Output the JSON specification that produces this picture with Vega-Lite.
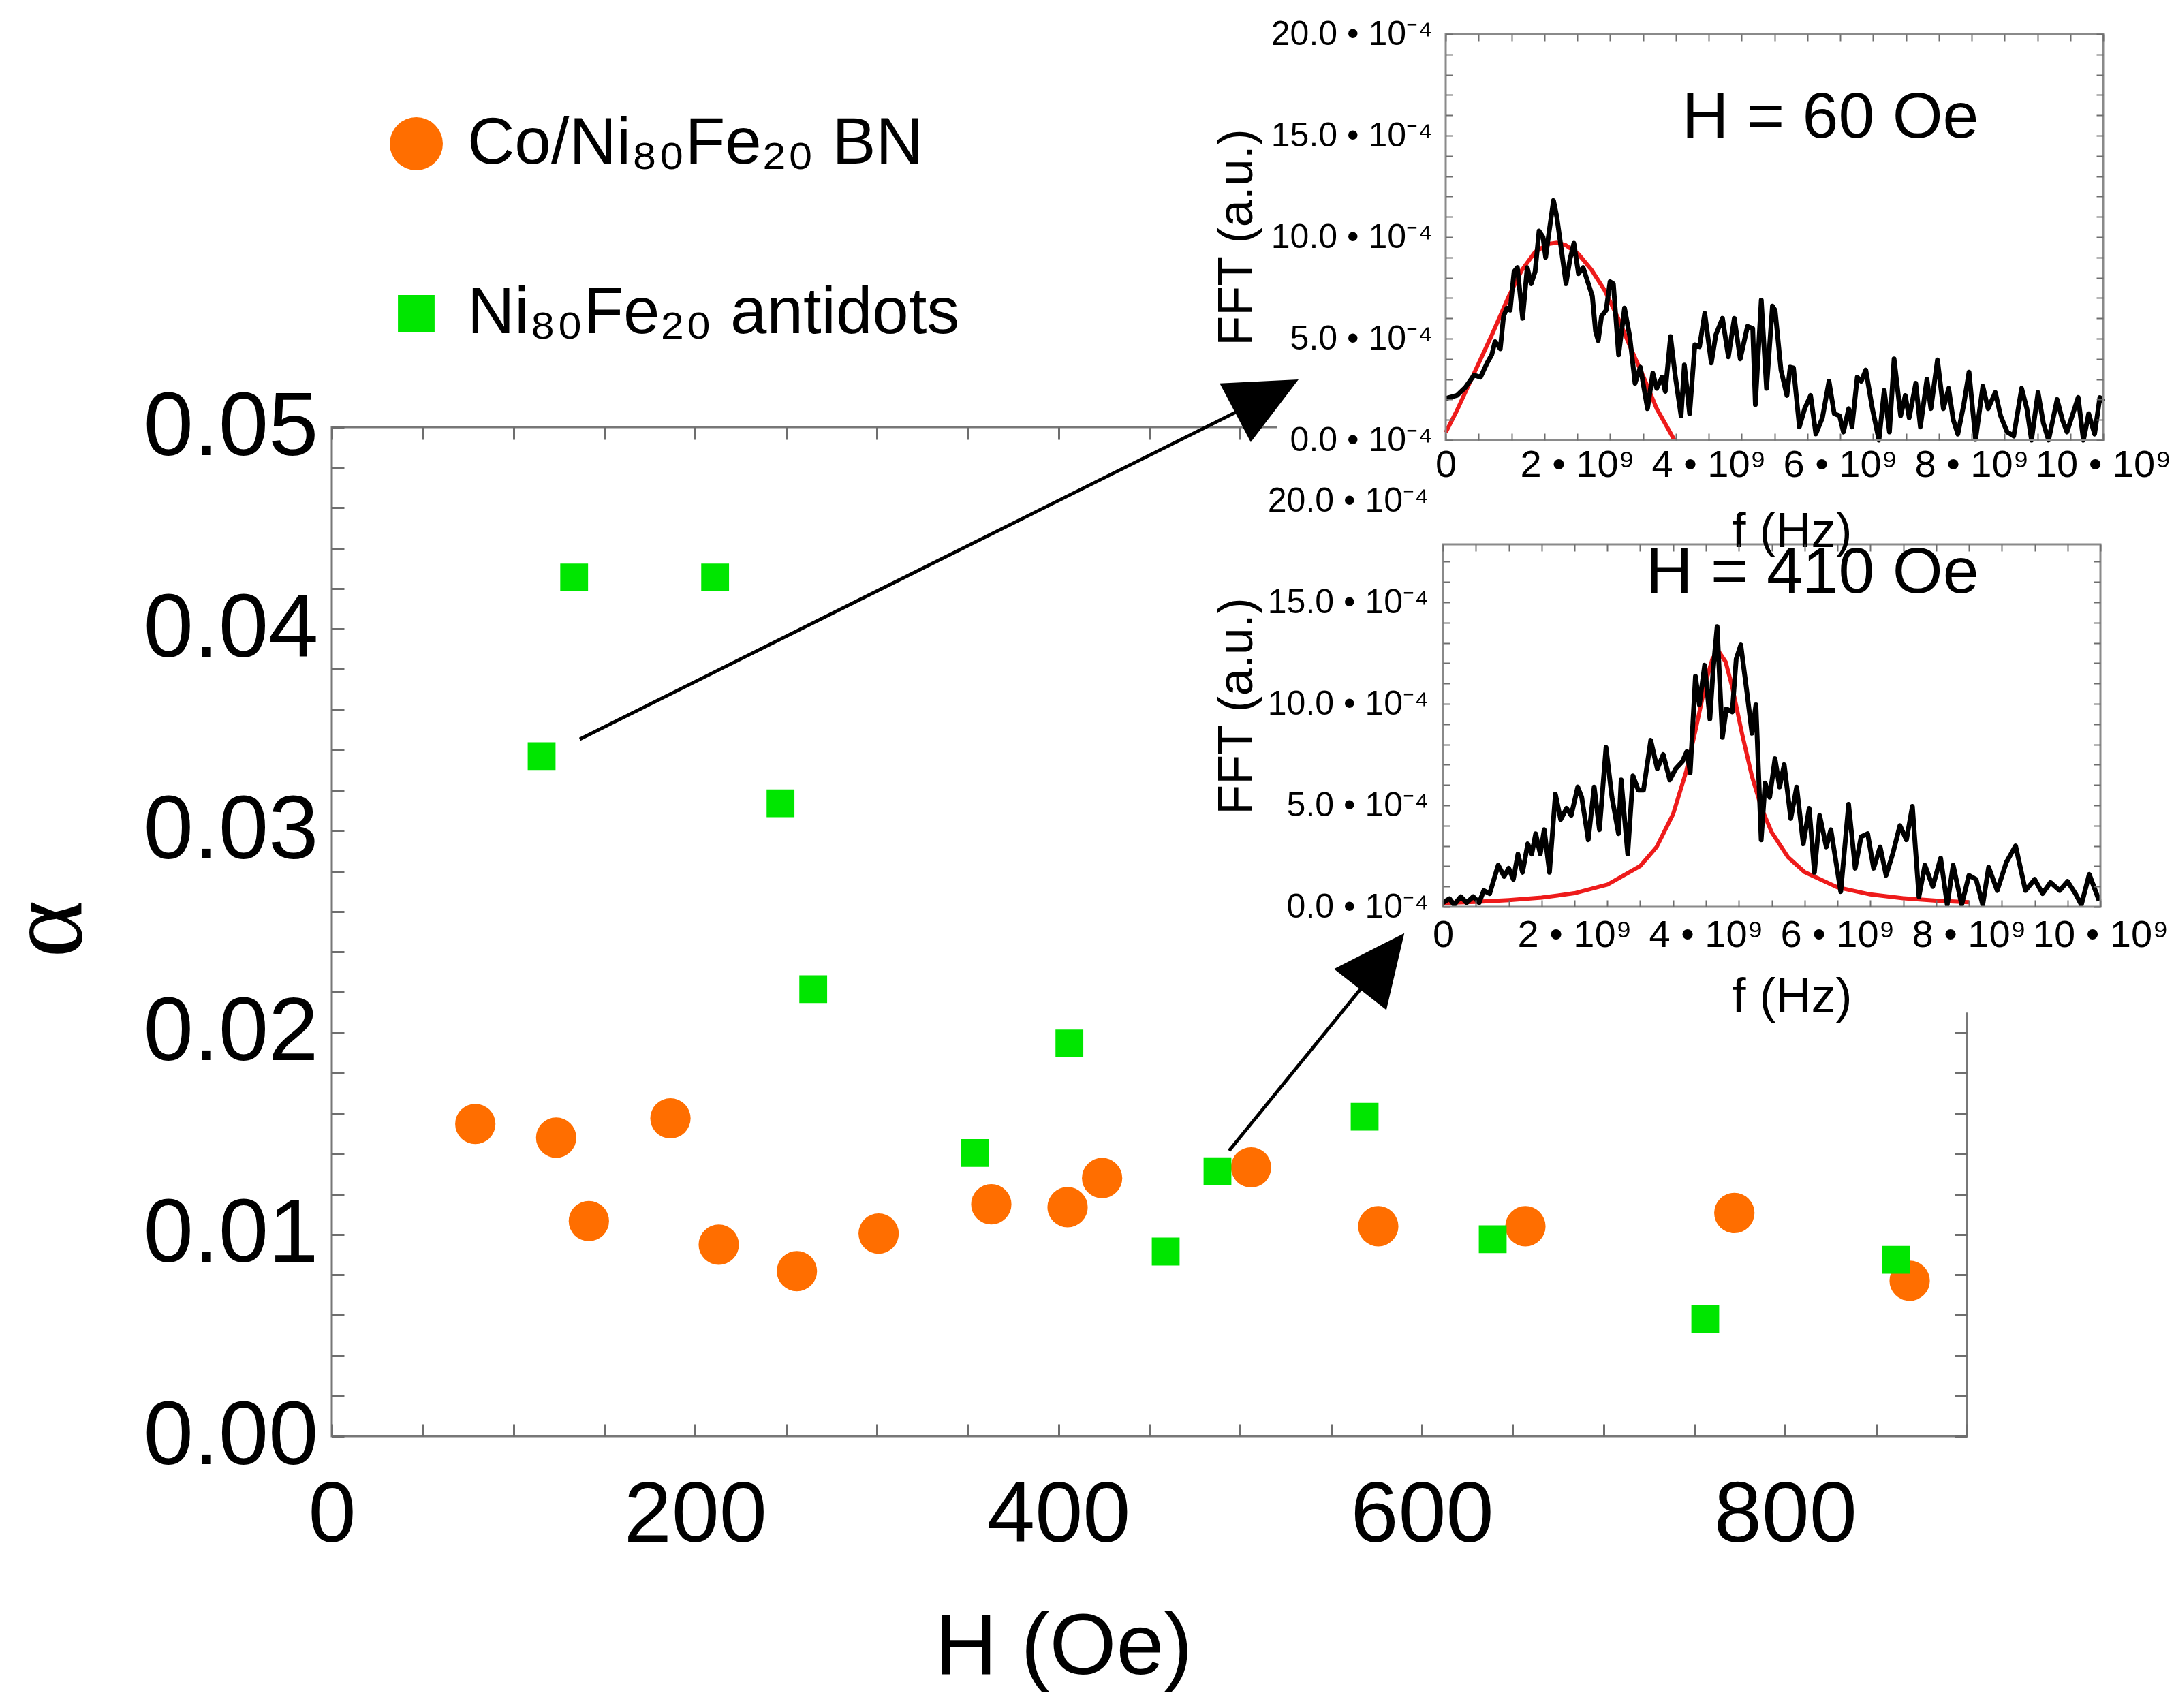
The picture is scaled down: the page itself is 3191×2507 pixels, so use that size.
{
  "$schema": "https://vega.github.io/schema/vega-lite/v6.json",
  "width": 2400,
  "height": 1481,
  "autosize": "none",
  "padding": {"left": 487, "top": 627, "right": 304, "bottom": 399},
  "background": "white",
  "config": {
    "view": {"stroke": "#777777", "strokeWidth": 3},
    "font": "Liberation Sans",
    "axis": {
      "labelFont": "Liberation Sans", "titleFont": "Liberation Sans",
      "labelColor": "black", "titleColor": "black", "titleFontWeight": "normal",
      "grid": false, "domain": false, "tickColor": "#6e6e6e",
      "labelOverlap": false, "labelBound": false, "labelFlush": false, "labelLimit": 0
    }
  },
  "datasets": {
    "pts": [
      {"series": "Co/Ni₈₀Fe₂₀ BN", "H": 79, "alpha": 0.01547},
      {"series": "Co/Ni₈₀Fe₂₀ BN", "H": 123.5, "alpha": 0.01479},
      {"series": "Co/Ni₈₀Fe₂₀ BN", "H": 141.5, "alpha": 0.01066},
      {"series": "Co/Ni₈₀Fe₂₀ BN", "H": 186.4, "alpha": 0.01575},
      {"series": "Co/Ni₈₀Fe₂₀ BN", "H": 213, "alpha": 0.00949},
      {"series": "Co/Ni₈₀Fe₂₀ BN", "H": 256, "alpha": 0.00818},
      {"series": "Co/Ni₈₀Fe₂₀ BN", "H": 301, "alpha": 0.01004},
      {"series": "Co/Ni₈₀Fe₂₀ BN", "H": 363, "alpha": 0.01149},
      {"series": "Co/Ni₈₀Fe₂₀ BN", "H": 405, "alpha": 0.01135},
      {"series": "Co/Ni₈₀Fe₂₀ BN", "H": 424, "alpha": 0.01279},
      {"series": "Co/Ni₈₀Fe₂₀ BN", "H": 506, "alpha": 0.01332},
      {"series": "Co/Ni₈₀Fe₂₀ BN", "H": 576, "alpha": 0.0104},
      {"series": "Co/Ni₈₀Fe₂₀ BN", "H": 657, "alpha": 0.0104},
      {"series": "Co/Ni₈₀Fe₂₀ BN", "H": 772, "alpha": 0.01106},
      {"series": "Co/Ni₈₀Fe₂₀ BN", "H": 868.5, "alpha": 0.0077},
      {"series": "Ni₈₀Fe₂₀ antidots", "H": 115.5, "alpha": 0.0337},
      {"series": "Ni₈₀Fe₂₀ antidots", "H": 133.4, "alpha": 0.04255},
      {"series": "Ni₈₀Fe₂₀ antidots", "H": 211, "alpha": 0.04255},
      {"series": "Ni₈₀Fe₂₀ antidots", "H": 247, "alpha": 0.03136},
      {"series": "Ni₈₀Fe₂₀ antidots", "H": 265, "alpha": 0.02215},
      {"series": "Ni₈₀Fe₂₀ antidots", "H": 354, "alpha": 0.01403},
      {"series": "Ni₈₀Fe₂₀ antidots", "H": 406, "alpha": 0.01946},
      {"series": "Ni₈₀Fe₂₀ antidots", "H": 459, "alpha": 0.00915},
      {"series": "Ni₈₀Fe₂₀ antidots", "H": 487.5, "alpha": 0.01313},
      {"series": "Ni₈₀Fe₂₀ antidots", "H": 568.5, "alpha": 0.01583},
      {"series": "Ni₈₀Fe₂₀ antidots", "H": 639, "alpha": 0.00976},
      {"series": "Ni₈₀Fe₂₀ antidots", "H": 756, "alpha": 0.00582},
      {"series": "Ni₈₀Fe₂₀ antidots", "H": 861, "alpha": 0.00874}
    ],
    "cover": [{"f": -2.56, "f2": 12, "fft": -28.2, "fft2": 25}],
    "frame60": [{"f": 0, "f2": 10, "fft": 0, "fft2": 20}],
    "frame410": [{"f": 0, "f2": 10, "fft": 0, "fft2": 17.85}],
    "note60": [{"label": "H = 60 Oe", "f": 5.85, "fft": 15.87}],
    "note410": [{"label": "H = 410 Oe", "f": 5.62, "fft": 16.44}],
    "fit60": [
      {"f": 0, "fft": 0.37}, {"f": 0.166, "fft": 1.43}, {"f": 0.43, "fft": 3.28}, {"f": 0.695, "fft": 5.13},
      {"f": 0.96, "fft": 7.09}, {"f": 1.16, "fft": 8.38}, {"f": 1.36, "fft": 9.27}, {"f": 1.56, "fft": 9.66},
      {"f": 1.69, "fft": 9.72}, {"f": 1.82, "fft": 9.61}, {"f": 2.02, "fft": 9.16}, {"f": 2.22, "fft": 8.38},
      {"f": 2.42, "fft": 7.37}, {"f": 2.62, "fft": 6.02}, {"f": 2.81, "fft": 4.57}, {"f": 3.01, "fft": 3.11},
      {"f": 3.21, "fft": 1.55}, {"f": 3.48, "fft": 0}
    ],
    "fft60": [
      {"f": 0, "fft": 2.05}, {"f": 0.17, "fft": 2.2}, {"f": 0.3, "fft": 2.6}, {"f": 0.43, "fft": 3.2},
      {"f": 0.53, "fft": 3.1}, {"f": 0.63, "fft": 3.8}, {"f": 0.7, "fft": 4.2}, {"f": 0.75, "fft": 4.85},
      {"f": 0.83, "fft": 4.5}, {"f": 0.88, "fft": 6.1}, {"f": 0.93, "fft": 6.5}, {"f": 0.98, "fft": 6.4},
      {"f": 1.04, "fft": 8.3}, {"f": 1.09, "fft": 8.5}, {"f": 1.17, "fft": 6.0}, {"f": 1.24, "fft": 8.5},
      {"f": 1.3, "fft": 7.7}, {"f": 1.36, "fft": 8.3}, {"f": 1.42, "fft": 10.3}, {"f": 1.48, "fft": 10.0},
      {"f": 1.52, "fft": 9.0}, {"f": 1.57, "fft": 10.2}, {"f": 1.64, "fft": 11.8}, {"f": 1.69, "fft": 11.0},
      {"f": 1.75, "fft": 9.6}, {"f": 1.83, "fft": 7.7}, {"f": 1.89, "fft": 8.9}, {"f": 1.95, "fft": 9.7},
      {"f": 2.02, "fft": 8.2}, {"f": 2.09, "fft": 8.5}, {"f": 2.17, "fft": 7.7}, {"f": 2.23, "fft": 7.1},
      {"f": 2.28, "fft": 5.35}, {"f": 2.32, "fft": 4.9}, {"f": 2.37, "fft": 6.1}, {"f": 2.44, "fft": 6.4},
      {"f": 2.5, "fft": 7.8}, {"f": 2.55, "fft": 7.7}, {"f": 2.63, "fft": 4.2}, {"f": 2.72, "fft": 6.5},
      {"f": 2.8, "fft": 5.1}, {"f": 2.88, "fft": 2.8}, {"f": 2.96, "fft": 3.6}, {"f": 3.07, "fft": 1.55},
      {"f": 3.15, "fft": 3.3}, {"f": 3.21, "fft": 2.55}, {"f": 3.29, "fft": 3.1}, {"f": 3.34, "fft": 2.4},
      {"f": 3.42, "fft": 5.1}, {"f": 3.49, "fft": 3.2}, {"f": 3.58, "fft": 1.2}, {"f": 3.63, "fft": 3.7},
      {"f": 3.71, "fft": 1.3}, {"f": 3.79, "fft": 4.7}, {"f": 3.86, "fft": 4.6}, {"f": 3.94, "fft": 6.25},
      {"f": 4.04, "fft": 3.8}, {"f": 4.11, "fft": 5.2}, {"f": 4.21, "fft": 6.0}, {"f": 4.3, "fft": 4.1},
      {"f": 4.39, "fft": 6.0}, {"f": 4.48, "fft": 4.0}, {"f": 4.59, "fft": 5.6}, {"f": 4.67, "fft": 5.5},
      {"f": 4.71, "fft": 1.75}, {"f": 4.8, "fft": 6.9}, {"f": 4.88, "fft": 2.55}, {"f": 4.97, "fft": 6.6},
      {"f": 5.01, "fft": 6.4}, {"f": 5.1, "fft": 3.45}, {"f": 5.19, "fft": 2.2}, {"f": 5.24, "fft": 3.6},
      {"f": 5.29, "fft": 3.55}, {"f": 5.38, "fft": 0.65}, {"f": 5.46, "fft": 1.55}, {"f": 5.55, "fft": 2.2},
      {"f": 5.63, "fft": 0.3}, {"f": 5.73, "fft": 1.1}, {"f": 5.83, "fft": 2.9}, {"f": 5.91, "fft": 1.3},
      {"f": 5.99, "fft": 1.2}, {"f": 6.05, "fft": 0.4}, {"f": 6.13, "fft": 1.55}, {"f": 6.18, "fft": 0.65},
      {"f": 6.26, "fft": 3.1}, {"f": 6.32, "fft": 2.9}, {"f": 6.39, "fft": 3.45}, {"f": 6.49, "fft": 1.55},
      {"f": 6.59, "fft": 0}, {"f": 6.67, "fft": 2.45}, {"f": 6.75, "fft": 0.4}, {"f": 6.82, "fft": 4.0},
      {"f": 6.92, "fft": 1.2}, {"f": 6.99, "fft": 2.2}, {"f": 7.05, "fft": 1.1}, {"f": 7.15, "fft": 2.8},
      {"f": 7.22, "fft": 0.65}, {"f": 7.32, "fft": 3.0}, {"f": 7.38, "fft": 1.55}, {"f": 7.48, "fft": 3.95},
      {"f": 7.57, "fft": 1.55}, {"f": 7.65, "fft": 2.55}, {"f": 7.72, "fft": 1.0}, {"f": 7.79, "fft": 0.3},
      {"f": 7.88, "fft": 1.75}, {"f": 7.96, "fft": 3.35}, {"f": 8.06, "fft": 0.03}, {"f": 8.17, "fft": 2.65},
      {"f": 8.25, "fft": 1.55}, {"f": 8.36, "fft": 2.35}, {"f": 8.44, "fft": 1.2}, {"f": 8.54, "fft": 0.4},
      {"f": 8.64, "fft": 0.2}, {"f": 8.76, "fft": 2.55}, {"f": 8.84, "fft": 1.55}, {"f": 8.91, "fft": 0},
      {"f": 9.01, "fft": 2.35}, {"f": 9.09, "fft": 0.85}, {"f": 9.17, "fft": 0}, {"f": 9.3, "fft": 2.0},
      {"f": 9.38, "fft": 1.0}, {"f": 9.45, "fft": 0.4}, {"f": 9.62, "fft": 2.1}, {"f": 9.7, "fft": 0},
      {"f": 9.78, "fft": 1.3}, {"f": 9.87, "fft": 0.3}, {"f": 9.95, "fft": 2.1}, {"f": 10.0, "fft": 1.9}
    ],
    "fit410": [
      {"f": 0, "fft": 0.19}, {"f": 0.5, "fft": 0.245}, {"f": 1, "fft": 0.33}, {"f": 1.5, "fft": 0.45},
      {"f": 2, "fft": 0.67}, {"f": 2.5, "fft": 1.09}, {"f": 3, "fft": 2.01}, {"f": 3.25, "fft": 2.95},
      {"f": 3.5, "fft": 4.56}, {"f": 3.7, "fft": 6.67}, {"f": 3.85, "fft": 8.82}, {"f": 4.0, "fft": 11.11},
      {"f": 4.1, "fft": 12.23}, {"f": 4.19, "fft": 12.6}, {"f": 4.3, "fft": 12.06}, {"f": 4.4, "fft": 10.83},
      {"f": 4.55, "fft": 8.51}, {"f": 4.7, "fft": 6.42}, {"f": 4.85, "fft": 4.82}, {"f": 5.0, "fft": 3.67},
      {"f": 5.25, "fft": 2.44}, {"f": 5.5, "fft": 1.71}, {"f": 6, "fft": 0.96}, {"f": 6.5, "fft": 0.61},
      {"f": 7, "fft": 0.42}, {"f": 7.5, "fft": 0.3}, {"f": 8, "fft": 0.23}
    ],
    "fft410": [
      {"f": 0, "fft": 0.2}, {"f": 0.1, "fft": 0.4}, {"f": 0.17, "fft": 0.1}, {"f": 0.27, "fft": 0.5},
      {"f": 0.36, "fft": 0.2}, {"f": 0.46, "fft": 0.5}, {"f": 0.55, "fft": 0.2}, {"f": 0.62, "fft": 0.8},
      {"f": 0.71, "fft": 0.65}, {"f": 0.84, "fft": 2.05}, {"f": 0.93, "fft": 1.5}, {"f": 1.0, "fft": 1.9},
      {"f": 1.07, "fft": 1.35}, {"f": 1.14, "fft": 2.6}, {"f": 1.21, "fft": 1.7}, {"f": 1.29, "fft": 3.1},
      {"f": 1.35, "fft": 2.6}, {"f": 1.41, "fft": 3.6}, {"f": 1.48, "fft": 2.6}, {"f": 1.54, "fft": 3.8},
      {"f": 1.62, "fft": 1.7}, {"f": 1.71, "fft": 5.55}, {"f": 1.79, "fft": 4.3}, {"f": 1.88, "fft": 4.85},
      {"f": 1.95, "fft": 4.5}, {"f": 2.05, "fft": 5.9}, {"f": 2.11, "fft": 5.4}, {"f": 2.21, "fft": 3.3},
      {"f": 2.3, "fft": 5.9}, {"f": 2.38, "fft": 3.8}, {"f": 2.48, "fft": 7.85}, {"f": 2.57, "fft": 5.4},
      {"f": 2.67, "fft": 3.6}, {"f": 2.71, "fft": 6.25}, {"f": 2.81, "fft": 2.6}, {"f": 2.89, "fft": 6.45},
      {"f": 2.97, "fft": 5.75}, {"f": 3.05, "fft": 5.75}, {"f": 3.16, "fft": 8.2}, {"f": 3.26, "fft": 6.8},
      {"f": 3.35, "fft": 7.5}, {"f": 3.45, "fft": 6.25}, {"f": 3.54, "fft": 6.8}, {"f": 3.64, "fft": 7.15},
      {"f": 3.71, "fft": 7.65}, {"f": 3.76, "fft": 6.6}, {"f": 3.84, "fft": 11.35}, {"f": 3.9, "fft": 9.95},
      {"f": 3.98, "fft": 11.9}, {"f": 4.06, "fft": 9.25}, {"f": 4.11, "fft": 11.7}, {"f": 4.17, "fft": 13.8},
      {"f": 4.25, "fft": 8.35}, {"f": 4.31, "fft": 9.75}, {"f": 4.4, "fft": 9.6}, {"f": 4.46, "fft": 12.2},
      {"f": 4.53, "fft": 12.9}, {"f": 4.62, "fft": 10.65}, {"f": 4.7, "fft": 8.55}, {"f": 4.76, "fft": 9.95},
      {"f": 4.84, "fft": 3.3}, {"f": 4.9, "fft": 6.1}, {"f": 4.97, "fft": 5.4}, {"f": 5.05, "fft": 7.3},
      {"f": 5.12, "fft": 5.9}, {"f": 5.19, "fft": 7.0}, {"f": 5.29, "fft": 4.35}, {"f": 5.38, "fft": 5.9},
      {"f": 5.48, "fft": 3.1}, {"f": 5.57, "fft": 4.85}, {"f": 5.65, "fft": 1.7}, {"f": 5.73, "fft": 4.5},
      {"f": 5.83, "fft": 2.95}, {"f": 5.9, "fft": 3.8}, {"f": 6.05, "fft": 0.75}, {"f": 6.17, "fft": 5.05},
      {"f": 6.27, "fft": 1.9}, {"f": 6.36, "fft": 3.45}, {"f": 6.46, "fft": 3.6}, {"f": 6.55, "fft": 1.9},
      {"f": 6.65, "fft": 2.95}, {"f": 6.74, "fft": 1.55}, {"f": 6.84, "fft": 2.6}, {"f": 6.95, "fft": 4.0},
      {"f": 7.05, "fft": 3.3}, {"f": 7.14, "fft": 4.95}, {"f": 7.24, "fft": 0.5}, {"f": 7.33, "fft": 2.05},
      {"f": 7.45, "fft": 1.0}, {"f": 7.57, "fft": 2.4}, {"f": 7.67, "fft": 0.1}, {"f": 7.76, "fft": 2.05},
      {"f": 7.89, "fft": 0.1}, {"f": 8.0, "fft": 1.55}, {"f": 8.11, "fft": 1.35}, {"f": 8.21, "fft": 0.1},
      {"f": 8.3, "fft": 1.95}, {"f": 8.43, "fft": 0.8}, {"f": 8.57, "fft": 2.2}, {"f": 8.71, "fft": 3.0},
      {"f": 8.86, "fft": 0.8}, {"f": 9.0, "fft": 1.35}, {"f": 9.12, "fft": 0.65}, {"f": 9.24, "fft": 1.2},
      {"f": 9.38, "fft": 0.8}, {"f": 9.5, "fft": 1.25}, {"f": 9.62, "fft": 0.65}, {"f": 9.71, "fft": 0.1},
      {"f": 9.83, "fft": 1.6}, {"f": 9.9, "fft": 1.0}, {"f": 9.98, "fft": 0.3}
    ],
    "arrows": [
      {"H": 136.5, "a": 0.03454, "H2": 503.6, "a2": 0.05101},
      {"H": 493.9, "a": 0.014146, "H2": 571.1, "a2": 0.02269}
    ],
    "heads": [
      {"id": 1, "H": 514.7, "a": 0.05154},
      {"id": 2, "H": 578.2, "a": 0.02353}
    ]
  },
  "layer": [
    {
      "data": {"name": "pts"},
      "mark": {"type": "point", "filled": true, "opacity": 1, "strokeWidth": 0, "size": 3500},
      "encoding": {
        "x": {
          "field": "H", "type": "quantitative",
          "scale": {"domain": [0, 900], "nice": false, "zero": false},
          "axis": {
            "orient": "bottom",
            "values": [0, 50, 100, 150, 200, 250, 300, 350, 400, 450, 500, 550, 600, 650, 700, 750, 800, 850, 900],
            "labelExpr": "datum.value % 200 === 0 ? datum.label : ''",
            "tickSize": -18, "tickWidth": 3,
            "labelFontSize": 126, "labelPadding": 72,
            "title": "H (Oe)", "titleFontSize": 126,
            "titleX": 1074, "titleY": 348, "titleAlign": "center", "titleBaseline": "alphabetic"
          }
        },
        "y": {
          "field": "alpha", "type": "quantitative",
          "scale": {"domain": [0, 0.05], "nice": false, "zero": false},
          "axis": {
            "orient": "left",
            "values": [0, 0.002, 0.004, 0.006, 0.008, 0.01, 0.012, 0.014, 0.016, 0.018, 0.02, 0.022, 0.024, 0.026, 0.028, 0.03, 0.032, 0.034, 0.036, 0.038, 0.04, 0.042, 0.044, 0.046, 0.048, 0.05],
            "labelExpr": "round(datum.value * 1000) % 10 === 0 ? format(datum.value, '.2f') : ''",
            "tickSize": -18, "tickWidth": 3,
            "labelFontSize": 132, "labelPadding": 38,
            "title": "α", "titleFont": "Liberation Serif", "titleFontSize": 162,
            "titleAngle": -90, "titleX": -418, "titleY": 736, "titleAlign": "center", "titleBaseline": "middle"
          }
        },
        "color": {
          "field": "series", "type": "nominal",
          "scale": {"domain": ["Co/Ni₈₀Fe₂₀ BN", "Ni₈₀Fe₂₀ antidots"], "range": ["#ff6e00", "#00e600"]},
          "legend": {
            "orient": "none", "legendX": 76, "legendY": -464, "title": null,
            "labelFontSize": 96, "labelFont": "Liberation Sans", "labelColor": "black",
            "labelOffset": 27, "rowPadding": 153, "symbolSize": 6084, "symbolStrokeWidth": 0,
            "labelLimit": 0, "padding": 0
          }
        },
        "shape": {
          "field": "series", "type": "nominal",
          "scale": {"domain": ["Co/Ni₈₀Fe₂₀ BN", "Ni₈₀Fe₂₀ antidots"], "range": ["circle", "M-0.69,-0.69L0.69,-0.69L0.69,0.69L-0.69,0.69Z"]}
        }
      }
    },
    {
      "encoding": {
        "x": {
          "field": "f", "type": "quantitative",
          "scale": {"domain": [0, 10], "range": [1635, 2600], "nice": false, "zero": false},
          "axis": {
            "orient": "bottom", "offset": -1462, "zindex": 1,
            "values": [0, 0.5, 1, 1.5, 2, 2.5, 3, 3.5, 4, 4.5, 5, 5.5, 6, 6.5, 7, 7.5, 8, 8.5, 9, 9.5, 10],
            "labelExpr": "datum.value === 0 ? '0' : (datum.value % 2 === 0 ? datum.value + ' • 10⁹' : '')",
            "tickSize": -10, "tickWidth": 2, "labelFontSize": 56, "labelPadding": 19,
            "title": "f (Hz)", "titleFontSize": 72, "titleX": 2143, "titleY": 134,
            "titleAlign": "center", "titleBaseline": "middle"
          }
        },
        "y": {
          "field": "fft", "type": "quantitative",
          "scale": {"domain": [0, 20], "range": [19, -577], "nice": false, "zero": false},
          "axis": {
            "orient": "left", "offset": -1635, "zindex": 1,
            "values": [0, 1, 2, 3, 4, 5, 6, 7, 8, 9, 10, 11, 12, 13, 14, 15, 16, 17, 18, 19, 20],
            "labelExpr": "datum.value % 5 === 0 ? format(datum.value, '.1f') + ' • 10⁻⁴' : ''",
            "tickSize": -10, "tickWidth": 2, "labelFontSize": 50, "labelPadding": 30,
            "title": "FFT (a.u.)", "titleFontSize": 72, "titleAngle": -90,
            "titleX": -307, "titleY": -279, "titleAlign": "center", "titleBaseline": "middle"
          }
        }
      },
      "layer": [
        {
          "data": {"name": "cover"},
          "mark": {"type": "rect", "fill": "white", "strokeWidth": 0},
          "encoding": {"x2": {"field": "f2"}, "y2": {"field": "fft2"}}
        },
        {
          "data": {"name": "fit60"},
          "mark": {"type": "line", "color": "#ee1b1b", "strokeWidth": 6}
        },
        {
          "data": {"name": "fft60"},
          "mark": {"type": "line", "color": "black", "strokeWidth": 7, "strokeJoin": "round"}
        },
        {
          "data": {"name": "note60"},
          "mark": {"type": "text", "fontSize": 95, "font": "Liberation Sans", "color": "black", "align": "center", "baseline": "middle"},
          "encoding": {"text": {"field": "label"}}
        }
      ]
    },
    {
      "data": {"name": "frame60"},
      "mark": {"type": "rect", "fillOpacity": 0, "stroke": "#8a8a8a", "strokeWidth": 3},
      "encoding": {
        "x": {
          "field": "f", "type": "quantitative",
          "scale": {"domain": [0, 10], "range": [1635, 2600], "nice": false, "zero": false},
          "axis": {"orient": "top", "offset": 577, "zindex": 1, "labels": false, "title": null, "tickSize": -10, "tickWidth": 2,
            "values": [0, 0.5, 1, 1.5, 2, 2.5, 3, 3.5, 4, 4.5, 5, 5.5, 6, 6.5, 7, 7.5, 8, 8.5, 9, 9.5, 10]}
        },
        "x2": {"field": "f2"},
        "y": {
          "field": "fft", "type": "quantitative",
          "scale": {"domain": [0, 20], "range": [19, -577], "nice": false, "zero": false},
          "axis": {"orient": "right", "offset": 200, "zindex": 1, "labels": false, "title": null, "tickSize": -10, "tickWidth": 2,
            "values": [0, 1, 2, 3, 4, 5, 6, 7, 8, 9, 10, 11, 12, 13, 14, 15, 16, 17, 18, 19, 20]}
        },
        "y2": {"field": "fft2"}
      }
    },
    {
      "encoding": {
        "x": {
          "field": "f", "type": "quantitative",
          "scale": {"domain": [0, 10], "range": [1631, 2596], "nice": false, "zero": false},
          "axis": {
            "orient": "bottom", "offset": -777, "zindex": 1,
            "values": [0, 0.5, 1, 1.5, 2, 2.5, 3, 3.5, 4, 4.5, 5, 5.5, 6, 6.5, 7, 7.5, 8, 8.5, 9, 9.5, 10],
            "labelExpr": "datum.value === 0 ? '0' : (datum.value % 2 === 0 ? datum.value + ' • 10⁹' : '')",
            "tickSize": -10, "tickWidth": 2, "labelFontSize": 56, "labelPadding": 24,
            "title": "f (Hz)", "titleFontSize": 72, "titleX": 2143, "titleY": 132,
            "titleAlign": "center", "titleBaseline": "middle"
          }
        },
        "y": {
          "field": "fft", "type": "quantitative",
          "scale": {"domain": [0, 20], "range": [704, 108], "nice": false, "zero": false},
          "axis": {
            "orient": "left", "offset": -1631, "zindex": 1,
            "values": [0, 1, 2, 3, 4, 5, 6, 7, 8, 9, 10, 11, 12, 13, 14, 15, 16, 17, 20],
            "labelExpr": "datum.value % 5 === 0 ? format(datum.value, '.1f') + ' • 10⁻⁴' : ''",
            "tickOpacity": {"condition": {"test": "datum.value > 18", "value": 0}, "value": 1},
            "tickSize": -10, "tickWidth": 2, "labelFontSize": 50, "labelPadding": 31,
            "title": "FFT (a.u.)", "titleFontSize": 72, "titleAngle": -90,
            "titleX": -303, "titleY": 409, "titleAlign": "center", "titleBaseline": "middle"
          }
        }
      },
      "layer": [
        {
          "data": {"name": "fit410"},
          "mark": {"type": "line", "color": "#ee1b1b", "strokeWidth": 6}
        },
        {
          "data": {"name": "fft410"},
          "mark": {"type": "line", "color": "black", "strokeWidth": 7, "strokeJoin": "round"}
        },
        {
          "data": {"name": "note410"},
          "mark": {"type": "text", "fontSize": 95, "font": "Liberation Sans", "color": "black", "align": "center", "baseline": "middle"},
          "encoding": {"text": {"field": "label"}}
        }
      ]
    },
    {
      "data": {"name": "frame410"},
      "mark": {"type": "rect", "fillOpacity": 0, "stroke": "#8a8a8a", "strokeWidth": 3},
      "encoding": {
        "x": {
          "field": "f", "type": "quantitative",
          "scale": {"domain": [0, 10], "range": [1631, 2596], "nice": false, "zero": false},
          "axis": {"orient": "top", "offset": -172, "zindex": 1, "labels": false, "title": null, "tickSize": -10, "tickWidth": 2,
            "values": [0, 0.5, 1, 1.5, 2, 2.5, 3, 3.5, 4, 4.5, 5, 5.5, 6, 6.5, 7, 7.5, 8, 8.5, 9, 9.5, 10]}
        },
        "x2": {"field": "f2"},
        "y": {
          "field": "fft", "type": "quantitative",
          "scale": {"domain": [0, 20], "range": [704, 108], "nice": false, "zero": false},
          "axis": {"orient": "right", "offset": 196, "zindex": 1, "labels": false, "title": null, "tickSize": -10, "tickWidth": 2,
            "values": [0, 1, 2, 3, 4, 5, 6, 7, 8, 9, 10, 11, 12, 13, 14, 15, 16, 17]}
        },
        "y2": {"field": "fft2"}
      }
    },
    {
      "encoding": {
        "x": {
          "field": "H", "type": "quantitative",
          "scale": {"domain": [0, 900], "nice": false, "zero": false},
          "axis": {"orient": "top", "labels": false, "title": null, "tickSize": -18, "tickWidth": 3,
            "values": [0, 50, 100, 150, 200, 250, 300, 350, 400, 450, 500, 550, 600, 650, 700, 750, 800, 850, 900]}
        },
        "y": {
          "field": "a", "type": "quantitative",
          "scale": {"domain": [0, 0.05], "nice": false, "zero": false},
          "axis": {"orient": "right", "labels": false, "title": null, "tickSize": -18, "tickWidth": 3,
            "values": [0, 0.002, 0.004, 0.006, 0.008, 0.01, 0.012, 0.014, 0.016, 0.018, 0.02, 0.022, 0.024, 0.026, 0.028, 0.03, 0.032, 0.034, 0.036, 0.038, 0.04, 0.042, 0.044, 0.046, 0.048, 0.05]}
        }
      },
      "layer": [
        {
          "data": {"name": "arrows"},
          "mark": {"type": "rule", "color": "black", "strokeWidth": 5},
          "encoding": {"x2": {"field": "H2"}, "y2": {"field": "a2"}}
        },
        {
          "data": {"name": "heads"},
          "transform": [{"filter": "datum.id === 1"}],
          "mark": {"type": "point", "shape": "M1,0L-1,-0.93L-1,0.93Z", "filled": true, "color": "black", "opacity": 1, "size": 11025, "angle": 332.2, "strokeWidth": 0}
        },
        {
          "data": {"name": "heads"},
          "transform": [{"filter": "datum.id === 2"}],
          "mark": {"type": "point", "shape": "M1,0L-1,-0.93L-1,0.93Z", "filled": true, "color": "black", "opacity": 1, "size": 11025, "angle": 308.1, "strokeWidth": 0}
        }
      ]
    }
  ],
  "resolve": {
    "scale": {"x": "independent", "y": "independent"},
    "axis": {"x": "independent", "y": "independent"}
  }
}
